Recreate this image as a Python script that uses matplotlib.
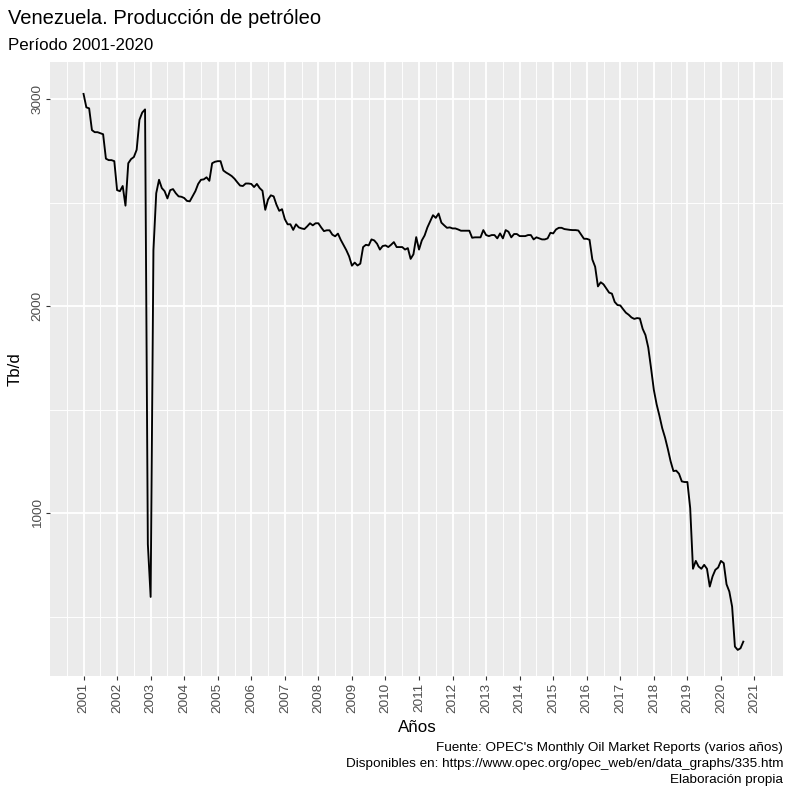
import numpy as np
import matplotlib
matplotlib.use("Agg")
import matplotlib.pyplot as plt
from matplotlib.ticker import FixedLocator

plt.rcParams['font.family'] = ['Liberation Sans', 'DejaVu Sans']

# Monthly production (Tb/d), Jan 2001 - Sep 2020
p2001 = [3025, 2960, 2955, 2850, 2840, 2840, 2835, 2830, 2712, 2705, 2705, 2700]
p2002 = [2560, 2555, 2580, 2485, 2690, 2710, 2720, 2755, 2900, 2935, 2950, 850]
p2003 = [595, 2270, 2545, 2610, 2570, 2555, 2520, 2560, 2565, 2545, 2530, 2528]
p2004 = [2522, 2508, 2506, 2530, 2555, 2590, 2610, 2612, 2622, 2605, 2690, 2697]
p2005 = [2700, 2700, 2655, 2645, 2637, 2628, 2615, 2598, 2582, 2580, 2592, 2592]
p2006 = [2590, 2575, 2590, 2570, 2557, 2465, 2515, 2535, 2530, 2490, 2460, 2468]
p2007 = [2420, 2395, 2395, 2368, 2395, 2380, 2375, 2372, 2385, 2400, 2390, 2400]
p2008 = [2400, 2380, 2362, 2366, 2366, 2345, 2337, 2350, 2320, 2295, 2270, 2240]
p2009 = [2195, 2210, 2196, 2205, 2285, 2296, 2293, 2322, 2317, 2301, 2273, 2290]
p2010 = [2293, 2285, 2296, 2309, 2285, 2285, 2285, 2273, 2280, 2228, 2250, 2333]
p2011 = [2273, 2317, 2341, 2380, 2410, 2439, 2426, 2447, 2403, 2390, 2378, 2380]
p2012 = [2375, 2375, 2370, 2364, 2364, 2364, 2364, 2330, 2332, 2332, 2332, 2367]
p2013 = [2343, 2338, 2343, 2343, 2327, 2351, 2327, 2367, 2359, 2332, 2348, 2348]
p2014 = [2338, 2338, 2338, 2343, 2343, 2322, 2332, 2327, 2322, 2322, 2327, 2354]
p2015 = [2351, 2370, 2378, 2378, 2372, 2370, 2368, 2367, 2367, 2365, 2345, 2325]
p2016 = [2325, 2320, 2225, 2190, 2095, 2115, 2105, 2085, 2065, 2060, 2020, 2005]
p2017 = [2003, 1985, 1968, 1958, 1945, 1938, 1942, 1940, 1890, 1860, 1800, 1700]
p2018 = [1595, 1525, 1470, 1410, 1365, 1310, 1250, 1203, 1205, 1190, 1153, 1150]
p2019 = [1150, 1024, 731, 769, 742, 731, 750, 731, 645, 694, 726, 737]
p2020 = [769, 758, 656, 621, 548, 355, 339, 347, 379]

production = (p2001 + p2002 + p2003 + p2004 + p2005 + p2006 + p2007 + p2008 +
              p2009 + p2010 + p2011 + p2012 + p2013 + p2014 + p2015 + p2016 +
              p2017 + p2018 + p2019 + p2020)
start_year = 2001
years = [start_year + i / 12 for i in range(len(production))]

year_ticks = list(range(2001, 2022))
year_labels = [str(y) for y in year_ticks]
y_ticks = [1000, 2000, 3000]
y_minor = [500, 1500, 2500]

W, H = 785, 787
fig = plt.figure(figsize=(W / 100, H / 100), dpi=100)
left, right, top, bottom = 50, 783, 62, 676
ax = fig.add_axes([left / W, 1 - bottom / H, (right - left) / W, (bottom - top) / H])
ax.set_facecolor('#EBEBEB')
for s in ax.spines.values():
    s.set_visible(False)

ax.plot(years, production, color='black', lw=1.35, zorder=3, solid_joinstyle='round')

ax.set_xlim(2000.0, 2021.85)
ax.set_ylim(213, 3179)

ax.xaxis.set_major_locator(FixedLocator(year_ticks))
ax.xaxis.set_minor_locator(FixedLocator([y + 0.5 for y in range(2000, 2022)]))
ax.yaxis.set_major_locator(FixedLocator(y_ticks))
ax.yaxis.set_minor_locator(FixedLocator(y_minor))
ax.set_xticklabels(year_labels, rotation=90, va='top', ha='center')
ax.set_yticklabels([str(v) for v in y_ticks], rotation=90)
for lab in ax.get_yticklabels():
    lab.set_rotation_mode('anchor')
    lab.set_ha('center')
    lab.set_va('bottom')

ax.grid(which='major', color='white', lw=1.3)
ax.grid(which='minor', color='white', lw=0.65)
ax.set_axisbelow(True)
ax.tick_params(which='major', length=2.6, width=0.8, color='#333333',
               labelsize=9.7, labelcolor='#4D4D4D', pad=2)
ax.tick_params(which='minor', length=0)

fig.text(8 / W, 1 - 18 / H, 'Venezuela. Producción de petróleo', fontsize=14.5,
         ha='left', va='center')
fig.text(8 / W, 1 - 45 / H, 'Período 2001-2020', fontsize=12.2, ha='left', va='center')
fig.text(15 / W, 1 - 369 / H, 'Tb/d', fontsize=12.2, rotation=90, ha='center', va='center')
fig.text(417 / W, 1 - 727 / H, 'Años', fontsize=12.2, ha='center', va='center')
caps = ["Fuente: OPEC's Monthly Oil Market Reports (varios años)",
        'Disponibles en: https://www.opec.org/opec_web/en/data_graphs/335.htm',
        'Elaboración propia']
for i, c in enumerate(caps):
    fig.text(783 / W, 1 - (748 + 16 * i) / H, c, fontsize=9.7, ha='right', va='center')

fig.savefig('out.png', dpi=100)
